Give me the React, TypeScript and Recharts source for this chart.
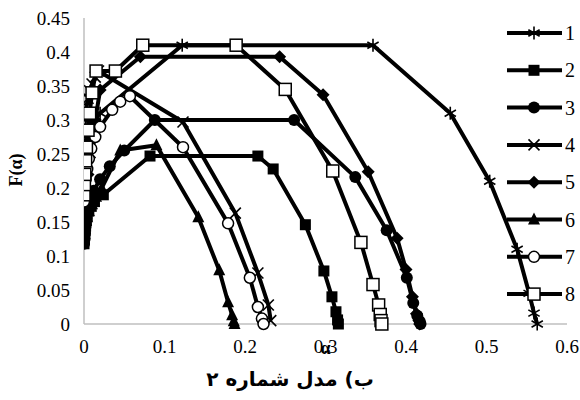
import React from "react";
import { LineChart, Line, XAxis, YAxis } from "recharts";

// α and F(α) for each run, left branch first, then the plateau and the falling branch
const alpha1 = [0, 0.0005, 0.001, 0.0015, 0.002, 0.003, 0.004, 0.006, 0.009, 0.013, 0.02, 0.122, 0.359, 0.455, 0.504, 0.538, 0.553, 0.559, 0.563];
const f1 = [0.25, 0.255, 0.26, 0.265, 0.27, 0.276, 0.282, 0.289, 0.295, 0.302, 0.31, 0.41, 0.41, 0.31, 0.21, 0.11, 0.045, 0.016, 0];

const alpha2 = [0, 0.0005, 0.001, 0.0015, 0.002, 0.003, 0.004, 0.006, 0.009, 0.013, 0.024, 0.082, 0.216, 0.235, 0.275, 0.298, 0.308, 0.313, 0.315, 0.316];
const f2 = [0.118, 0.124, 0.13, 0.137, 0.144, 0.152, 0.159, 0.166, 0.173, 0.18, 0.19, 0.247, 0.247, 0.228, 0.146, 0.078, 0.04, 0.018, 0.006, 0];

const alpha3 = [0, 0.0005, 0.001, 0.002, 0.003, 0.005, 0.008, 0.012, 0.02, 0.032, 0.05, 0.088, 0.261, 0.337, 0.376, 0.401, 0.409, 0.414, 0.417, 0.418];
const f3 = [0.118, 0.126, 0.134, 0.145, 0.156, 0.168, 0.182, 0.196, 0.213, 0.232, 0.255, 0.3, 0.3, 0.216, 0.138, 0.068, 0.031, 0.012, 0.004, 0];

const alpha4 = [0, 0.0005, 0.001, 0.002, 0.003, 0.005, 0.007, 0.01, 0.014, 0.018, 0.123, 0.188, 0.216, 0.229, 0.232];
const f4 = [0.28, 0.29, 0.3, 0.31, 0.32, 0.332, 0.343, 0.353, 0.363, 0.372, 0.297, 0.163, 0.075, 0.028, 0.005];

const alpha5 = [0, 0.0005, 0.001, 0.002, 0.003, 0.005, 0.007, 0.01, 0.014, 0.02, 0.07, 0.243, 0.297, 0.353, 0.389, 0.4, 0.408, 0.413, 0.416, 0.417];
const f5 = [0.125, 0.14, 0.155, 0.175, 0.195, 0.22, 0.245, 0.27, 0.3, 0.344, 0.393, 0.393, 0.337, 0.224, 0.126, 0.08, 0.04, 0.015, 0.005, 0];

const alpha6 = [0, 0.0005, 0.001, 0.002, 0.004, 0.006, 0.01, 0.015, 0.022, 0.045, 0.09, 0.142, 0.168, 0.179, 0.184, 0.186, 0.187];
const f6 = [0.125, 0.132, 0.14, 0.148, 0.157, 0.166, 0.176, 0.187, 0.2, 0.255, 0.263, 0.157, 0.079, 0.032, 0.013, 0.004, 0];

const alpha7 = [0, 0.0005, 0.001, 0.002, 0.004, 0.006, 0.009, 0.014, 0.02, 0.035, 0.045, 0.057, 0.123, 0.179, 0.206, 0.216, 0.221, 0.223];
const f7 = [0.18, 0.19, 0.2, 0.213, 0.228, 0.243, 0.258, 0.275, 0.29, 0.315, 0.327, 0.335, 0.26, 0.148, 0.068, 0.025, 0.008, 0];

const alpha8 = [0, 0.0005, 0.001, 0.002, 0.003, 0.005, 0.007, 0.01, 0.015, 0.039, 0.073, 0.189, 0.25, 0.309, 0.344, 0.359, 0.366, 0.368, 0.369, 0.37];
const f8 = [0.19, 0.205, 0.22, 0.24, 0.26, 0.285, 0.31, 0.34, 0.372, 0.372, 0.41, 0.41, 0.345, 0.225, 0.12, 0.058, 0.028, 0.014, 0.005, 0];

const X_TICKS = [0, 0.1, 0.2, 0.3, 0.4, 0.5, 0.6];
const Y_TICKS = [0, 0.05, 0.1, 0.15, 0.2, 0.25, 0.3, 0.35, 0.4, 0.45];
const LEGEND_LABELS = ["1", "2", "3", "4", "5", "6", "7", "8"];
const CAPTION = "ب) مدل شماره ۲";

type Kind = "asterisk" | "square" | "circle" | "cross" | "diamond" | "triangle" | "ring" | "box";
const MARKERS: Kind[] = ["asterisk", "square", "circle", "cross", "diamond", "triangle", "ring", "box"];

const zip = (a: number[], f: number[]) => a.map((x, i) => ({ a: x, f: f[i] }));
const SERIES = [
  zip(alpha1, f1),
  zip(alpha2, f2),
  zip(alpha3, f3),
  zip(alpha4, f4),
  zip(alpha5, f5),
  zip(alpha6, f6),
  zip(alpha7, f7),
  zip(alpha8, f8),
];

const SERIF = "'Liberation Serif', 'DejaVu Serif', serif";

function Marker({ kind, cx, cy }: { kind: Kind; cx: number; cy: number }) {
  if (cx == null || cy == null) return null;
  switch (kind) {
    case "asterisk": {
      const r = 6.5;
      return (
        <g stroke="#000" strokeWidth={1.6}>
          <line x1={cx} y1={cy - r} x2={cx} y2={cy + r} />
          <line x1={cx - r * 0.87} y1={cy - r / 2} x2={cx + r * 0.87} y2={cy + r / 2} />
          <line x1={cx - r * 0.87} y1={cy + r / 2} x2={cx + r * 0.87} y2={cy - r / 2} />
        </g>
      );
    }
    case "cross": {
      const r = 5.5;
      return (
        <g stroke="#000" strokeWidth={1.6}>
          <line x1={cx - r} y1={cy - r} x2={cx + r} y2={cy + r} />
          <line x1={cx - r} y1={cy + r} x2={cx + r} y2={cy - r} />
        </g>
      );
    }
    case "square":
      return <rect x={cx - 5.5} y={cy - 5.5} width={11} height={11} fill="#000" />;
    case "box":
      return <rect x={cx - 6} y={cy - 6} width={12} height={12} fill="#fff" stroke="#000" strokeWidth={1.5} />;
    case "circle":
      return <circle cx={cx} cy={cy} r={6} fill="#000" />;
    case "ring":
      return <circle cx={cx} cy={cy} r={5.5} fill="#fff" stroke="#000" strokeWidth={1.5} />;
    case "diamond":
      return <polygon points={`${cx},${cy - 6.5} ${cx + 6.5},${cy} ${cx},${cy + 6.5} ${cx - 6.5},${cy}`} fill="#000" />;
    case "triangle":
      return <polygon points={`${cx},${cy - 7} ${cx + 6},${cy + 5} ${cx - 6},${cy + 5}`} fill="#000" />;
  }
  return null;
}

function YTitle() {
  return (
    <text
      transform="translate(22,170) rotate(-90)"
      textAnchor="middle"
      fontFamily={SERIF}
      fontWeight="bold"
      fontSize={18}
      fill="#000"
    >
      F(α)
    </text>
  );
}

// axis title sits at the middle of the x axis, over the 0.3 tick
function AlphaTitle(props: any) {
  const vb = props.viewBox || {};
  return (
    <text
      x={vb.x + vb.width / 2}
      y={vb.y + 30}
      textAnchor="middle"
      fontFamily={SERIF}
      fontWeight="bold"
      fontSize={18}
      fill="#000"
    >
      α
    </text>
  );
}

function Legend() {
  return (
    <svg width={80} height={300} style={{ position: "absolute", left: 500, top: 10 }}>
      {LEGEND_LABELS.map((lab, i) => {
        const y = 23 + i * 37.3;
        return (
          <g key={lab}>
            <line x1={7} y1={y} x2={62} y2={y} stroke="#000" strokeWidth={4} />
            <Marker kind={MARKERS[i]} cx={34} cy={y} />
            <text x={65} y={y + 7} fontFamily={SERIF} fontSize={20} fill="#000">
              {lab}
            </text>
          </g>
        );
      })}
    </svg>
  );
}

export default function App() {
  const tickStyle = { fontFamily: SERIF, fontSize: 19, fill: "#000" };
  return (
    <div style={{ position: "absolute", left: 0, top: 0, width: 580, height: 400, background: "#fff" }}>
      <LineChart width={580} height={400} margin={{ top: 18, right: 13, left: 0, bottom: 46 }}>
        <XAxis
          type="number"
          dataKey="a"
          domain={[0, 0.6]}
          ticks={X_TICKS}
          tickLine={false}
          tickMargin={10}
          axisLine={{ stroke: "#BFBFBF", strokeWidth: 1.5 }}
          tick={tickStyle}
          height={30}
          allowDataOverflow
          label={<AlphaTitle />}
        />
        <YAxis
          type="number"
          dataKey="f"
          domain={[0, 0.45]}
          ticks={Y_TICKS}
          tickLine={false}
          tickMargin={8}
          axisLine={{ stroke: "#BFBFBF", strokeWidth: 1.5 }}
          tick={tickStyle}
          width={84}
          label={<YTitle />}
        />
        {SERIES.map((data, i) => (
          <Line
            key={i}
            data={data}
            dataKey="f"
            type="linear"
            stroke="#000"
            strokeWidth={4}
            strokeLinejoin="round"
            isAnimationActive={false}
            dot={(p: any) => <Marker key={`m${i}-${p.index}`} kind={MARKERS[i]} cx={p.cx} cy={p.cy} />}
            activeDot={false}
          />
        ))}
      </LineChart>
      <Legend />
      <div
        dir="rtl"
        style={{
          position: "absolute",
          left: 0,
          width: 580,
          top: 367,
          textAlign: "center",
          fontFamily: "'DejaVu Sans', sans-serif",
          fontWeight: "bold",
          fontSize: 20,
          color: "#000",
        }}
      >
        {CAPTION}
      </div>
    </div>
  );
}
